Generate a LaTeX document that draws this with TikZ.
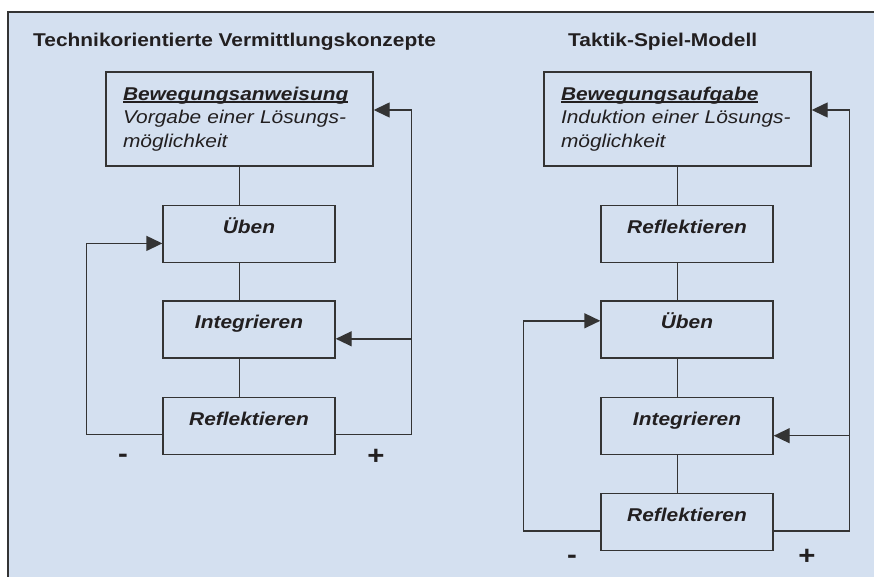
\documentclass[tikz,border=0pt]{standalone}
\usepackage{fontspec}
\newfontfamily\diafont[FakeStretch=1.13]{Liberation Sans}
\usetikzlibrary{arrows.meta,positioning}
\definecolor{flaeche}{RGB}{212,224,240}
\definecolor{linie}{RGB}{52,52,52}
\definecolor{schrift}{RGB}{34,31,32}
\newcommand{\unterstr}[1]{\setbox0\hbox{#1}\rlap{\rule[-2.6pt]{\wd0}{1.4pt}}\box0}
\tikzset{
  kasten/.style={draw=linie, line width=1.4pt, minimum width=172pt, inner sep=0pt,
    text height=28pt, text depth=29pt, text=schrift,
    font=\diafont\fontsize{18.5}{23.5}\selectfont\bfseries\itshape},
  aufgabe/.style={draw=linie, line width=1.4pt, minimum width=267pt, minimum height=94pt,
    text width=233pt, inner xsep=17pt, align=left, text=schrift,
    font=\diafont\fontsize{18.5}{23.5}\selectfont\itshape},
  titel/.style={anchor=base west, inner sep=0pt, text=schrift,
    font=\diafont\fontsize{18.5}{22}\selectfont\bfseries},
  zeichen/.style={inner sep=0pt, text=schrift,
    font=\diafont\fontsize{26}{28}\selectfont\bfseries},
  verb/.style={draw=linie, line width=1.4pt},
  pfeil/.style={draw=linie, line width=1.4pt, -{Triangle[length=16pt,width=15pt]}},
}
\begin{document}
\begin{tikzpicture}[x=1pt,y=-1pt]
\useasboundingbox (0,0) rectangle (874,577);
\fill[flaeche] (8,12) rectangle (874,577);
\draw[linie, line width=1.4pt] (874,12) -- (8,12) -- (8,577);

% Technikorientierte Vermittlungskonzepte
\node[titel] (titel1) at (33,47) {Technikorientierte Vermittlungskonzepte};
\node[aufgabe] (anw) at (239.5,119) {{\bfseries\unterstr{Bewegungsanweisung}}\\Vorgabe einer Lösungs-\\möglichkeit};
\node[kasten, below=38pt of anw, xshift=9.5pt] (ueb1) {Üben};
\node[kasten, below=37pt of ueb1] (int1) {Integrieren};
\node[kasten, below=38pt of int1] (ref1) {Reflektieren};
\node[zeichen] (minus1) at (123,458) {-};
\node[zeichen] (plus1) at (376,457) {+};
\draw[verb] (anw.south) -- (anw.south |- ueb1.north);
\draw[verb] (anw.south |- ueb1.south) -- (anw.south |- int1.north);
\draw[verb] (anw.south |- int1.south) -- (anw.south |- ref1.north);
\draw[pfeil] ([yshift=-9pt]ref1.west) -| ([xshift=-76pt,yshift=-9.5pt]ueb1.west) -- ([yshift=-9.5pt]ueb1.west);
\draw[pfeil] ([yshift=-9pt]ref1.east) -| ([xshift=38pt,yshift=9pt]anw.east) -- ([yshift=9pt]anw.east);
\draw[pfeil] ([xshift=76pt,yshift=-9.5pt]int1.east) -- ([yshift=-9.5pt]int1.east);

% Taktik-Spiel-Modell
\node[titel] (titel2) at (568,47) {Taktik-Spiel-Modell};
\node[aufgabe] (auf) at (677.5,119) {{\bfseries\unterstr{Bewegungsaufgabe}}\\Induktion einer Lösungs-\\möglichkeit};
\node[kasten, below=38pt of auf, xshift=9.5pt] (ref2a) {Reflektieren};
\node[kasten, below=37pt of ref2a] (ueb2) {Üben};
\node[kasten, below=38pt of ueb2] (int2) {Integrieren};
\node[kasten, below=38pt of int2] (ref2b) {Reflektieren};
\node[zeichen] (minus2) at (572,559) {-};
\node[zeichen] (plus2) at (807,557) {+};
\draw[verb] (auf.south) -- (auf.south |- ref2a.north);
\draw[verb] (auf.south |- ref2a.south) -- (auf.south |- ueb2.north);
\draw[verb] (auf.south |- ueb2.south) -- (auf.south |- int2.north);
\draw[verb] (auf.south |- int2.south) -- (auf.south |- ref2b.north);
\draw[pfeil] ([yshift=-9pt]ref2b.west) -| ([xshift=-77pt,yshift=8.5pt]ueb2.west) -- ([yshift=8.5pt]ueb2.west);
\draw[pfeil] ([yshift=-9pt]ref2b.east) -| ([xshift=38pt,yshift=9pt]auf.east) -- ([yshift=9pt]auf.east);
\draw[pfeil] ([xshift=76pt,yshift=-10pt]int2.east) -- ([yshift=-10pt]int2.east);
\end{tikzpicture}
\end{document}
